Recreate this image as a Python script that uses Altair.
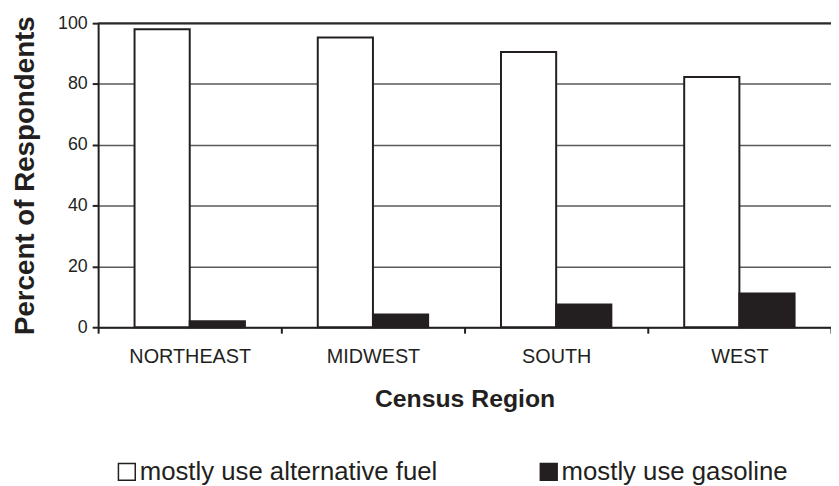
import altair as alt
import pandas as pd

regions = ["NORTHEAST", "MIDWEST", "SOUTH", "WEST"]
series = ["mostly use alternative fuel", "mostly use gasoline"]
alt_fuel = [98.0, 95.3, 90.5, 82.3]
gasoline = [2.0, 4.2, 7.5, 11.1]
y_ticks = [0, 20, 40, 60, 80, 100]

rows = []
for r, a, g in zip(regions, alt_fuel, gasoline):
    rows.append({"region": r, "series": series[0], "value": a})
    rows.append({"region": r, "series": series[1], "value": g})
df = pd.DataFrame(rows)

FONT = "Liberation Sans, Arial, Helvetica, sans-serif"
INK = "#231f20"

x = alt.X(
    "region:N",
    sort=regions,
    scale=alt.Scale(paddingInner=0, paddingOuter=0),
    axis=alt.Axis(
        title="Census Region",
        labelAngle=0,
        labelFontSize=20,
        labelColor=INK,
        labelPadding=14,
        titleFontSize=25,
        titleFontWeight="bold",
        titleColor=INK,
        titlePadding=20,
        tickBand="extent",
        tickSize=6,
        tickWidth=2,
        tickColor=INK,
        domainColor=INK,
        domainWidth=2,
        grid=False,
    ),
)

y = alt.Y(
    "value:Q",
    scale=alt.Scale(domain=[0, 100], nice=False),
    axis=alt.Axis(
        title="Percent of Respondents",
        values=y_ticks,
        labelFontSize=18,
        labelColor=INK,
        labelPadding=5,
        titleFontSize=28,
        titleFontWeight="bold",
        titleColor=INK,
        titlePadding=18,
        tickSize=6,
        tickWidth=2,
        tickColor=INK,
        domainColor=INK,
        domainWidth=2,
        grid=True,
        gridColor="#5a5a5a",
        gridWidth=1.5,
    ),
)

bars = alt.Chart(df).mark_bar(stroke=INK, strokeWidth=2).encode(
    x=x,
    xOffset=alt.XOffset(
        "series:N",
        sort=series,
        scale=alt.Scale(paddingInner=0, paddingOuter=0.66),
    ),
    y=y,
    color=alt.Color(
        "series:N",
        sort=series,
        scale=alt.Scale(domain=series, range=["white", INK]),
        legend=alt.Legend(
            title=None,
            orient="none",
            legendX=16,
            legendY=440,
            direction="horizontal",
            columns=2,
            columnPadding=99,
            padding=0,
            symbolType="square",
            symbolSize=289,
            symbolStrokeColor=INK,
            symbolStrokeWidth=1.5,
            labelFontSize=26,
            labelColor=INK,
            labelOffset=0,
            labelLimit=0,
        ),
    ),
)

top_line = alt.Chart(pd.DataFrame({"v": [y_ticks[-1]]})).mark_rule(
    color="#2a2a2a", strokeWidth=2
).encode(y=alt.Y("v:Q", scale=alt.Scale(domain=[0, 100], nice=False)))

chart = (
    alt.layer(bars, top_line)
    .properties(
        width=740,
        height=307,
        autosize=alt.AutoSizeParams(type="none"),
        padding={"left": 91, "top": 13, "right": 0, "bottom": 158},
    )
    .configure(font=FONT)
    .configure_view(stroke=None)
)

chart.save("out.html", embed_options={"renderer": "svg", "actions": False})
